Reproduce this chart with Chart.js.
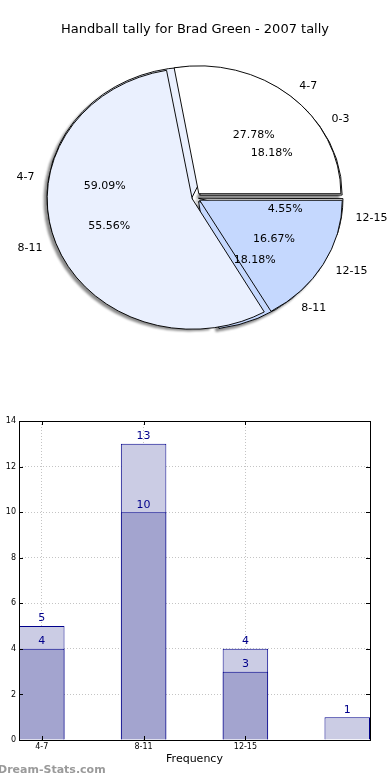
<!DOCTYPE html>
<html>
<head>
<meta charset="utf-8">
<script src="https://cdn.jsdelivr.net/npm/chart.js@4"></script>
<style>
  body { margin: 0; background: #fff; }
  #wrap { position: relative; width: 390px; height: 780px; overflow: hidden; }
  canvas { position: absolute; left: 0; }
  #pieBack { top: 0; filter: drop-shadow(-3px 3px 1px rgba(0, 0, 0, 0.45)); }
  #pieFront { top: 0; }
  #bars { top: 400px; }
  #mark { position: absolute; left: -2px; top: 763px; font: bold 11px "DejaVu Sans", sans-serif; color: #9a9a9a; }
</style>
</head>
<body>
<div id="wrap">
  <canvas id="pieBack" width="390" height="348"></canvas>
  <canvas id="pieFront" width="390" height="348"></canvas>
  <canvas id="bars" width="390" height="380"></canvas>
  <div id="mark">Dream-Stats.com</div>
</div>
<script>
// pie data (two pies drawn on top of each other)
const pieLabelsA = ['4-7', '8-11', '12-15'];
const pieValuesA = [5, 10, 3];
const pieLabelsB = ['0-3', '4-7', '8-11', '12-15'];
const pieValuesB = [4, 13, 4, 1];
const pieColors = ['#ffffff', '#eaf0fe', '#c5d8fe', '#ffffff'];

// bar data
const barLabels = ['4-7', '8-11', '12-15', ''];
const barFront = [4, 10, 3, null];
const barBack = [5, 13, 4, 1];
const yTicks = [0, 2, 4, 6, 8, 10, 12, 14];

const TITLE = 'Handball tally for Brad Green - 2007 tally';
const RADIUS = 142;
const SQUASH = 0.9;   // pie is drawn a bit flattened
const EXPLODE = 6;    // px each slice is pushed out
const BAR_FRAC = 0.447;
const NAVY = '#00008b';

Chart.defaults.font.family = '"DejaVu Sans", sans-serif';
Chart.defaults.color = '#000';

// chart.js shifts an arc by offset/4*(1+fix); work back to a px shift
function explode(values) {
    const total = values.reduce((a, b) => a + b, 0);
    return values.map(v => {
        const circ = v / total * 2 * Math.PI;
        const fix = 1 - Math.sin(Math.min(Math.PI, circ));
        return EXPLODE * 4 / (1 + fix);
    });
}

// flip + flatten so slices run counter-clockwise from 3 o'clock
const squashPlugin = {
    id: 'squash',
    beforeDatasetsDraw(chart) {
        const a = chart.chartArea;
        const cx = (a.left + a.right) / 2, cy = (a.top + a.bottom) / 2;
        const ctx = chart.ctx;
        ctx.save();
        ctx.translate(cx, cy);
        ctx.scale(1, -SQUASH);
        ctx.translate(-cx, -cy);
    },
    afterDatasetsDraw(chart) {
        chart.ctx.restore();
    }
};

function pieOptions(titleColor) {
    return {
        responsive: false,
        animation: false,
        events: [],
        rotation: 90,
        radius: RADIUS,
        layout: { padding: 0 },
        plugins: {
            legend: { display: false },
            tooltip: { enabled: false },
            title: {
                display: true,
                text: TITLE,
                color: titleColor,
                font: { size: 13, weight: 'normal' },
                padding: { top: 22, bottom: 10 }
            }
        }
    };
}

function pieDataset(values) {
    return {
        data: values,
        backgroundColor: pieColors.slice(0, values.length),
        borderColor: '#000',
        borderWidth: 1,
        offset: explode(values),
        clip: false
    };
}

const backChart = new Chart(document.getElementById('pieBack'), {
    type: 'pie',
    data: { labels: pieLabelsB, datasets: [pieDataset(pieValuesB)] },
    options: pieOptions('rgba(0,0,0,0)'),
    plugins: [squashPlugin]
});

function drawPieLabels(ctx, chart) {
    const meta = chart.getDatasetMeta(0);
    const values = chart.data.datasets[0].data;
    const labels = chart.data.labels;
    const total = values.reduce((a, b) => a + b, 0);
    meta.data.forEach((el, i) => {
        const mid = (el.startAngle + el.endAngle) / 2;
        const circ = el.endAngle - el.startAngle;
        const fix = 1 - Math.sin(Math.min(Math.PI, circ));
        const shift = el.options.offset / 4 * (1 + fix);
        const at = d => ({
            x: el.x + Math.cos(mid) * (shift + d * el.outerRadius),
            y: el.y - SQUASH * Math.sin(mid) * (shift + d * el.outerRadius)
        });
        const p = at(0.6);
        ctx.textAlign = 'center';
        ctx.fillText((values[i] / total * 100).toFixed(2) + '%', p.x, p.y);
        const l = at(1.1);
        ctx.textAlign = Math.cos(mid) > 0 ? 'left' : 'right';
        ctx.fillText(labels[i], l.x, l.y);
    });
}

const labelPlugin = {
    id: 'pieLabels',
    afterDraw(chart) {
        const ctx = chart.ctx;
        ctx.save();
        ctx.font = '11px "DejaVu Sans", sans-serif';
        ctx.fillStyle = '#000';
        ctx.textBaseline = 'middle';
        drawPieLabels(ctx, backChart);
        drawPieLabels(ctx, chart);
        ctx.restore();
    }
};

new Chart(document.getElementById('pieFront'), {
    type: 'pie',
    data: { labels: pieLabelsA, datasets: [pieDataset(pieValuesA)] },
    options: pieOptions('#000'),
    plugins: [squashPlugin, labelPlugin]
});

// bar chart
function points(values) {
    return values.map((v, i) => ({ x: i, y: v })).filter(p => p.y !== null);
}

const valuePlugin = {
    id: 'values',
    afterDatasetsDraw(chart) {
        const ctx = chart.ctx;
        ctx.save();
        ctx.font = '11px "DejaVu Sans", sans-serif';
        ctx.fillStyle = NAVY;
        ctx.textAlign = 'center';
        ctx.textBaseline = 'bottom';
        chart.data.datasets.forEach((ds, d) => {
            chart.getDatasetMeta(d).data.forEach((el, i) => {
                ctx.fillText(String(ds.data[i].y), el.x, el.y - 2);
            });
        });
        ctx.restore();
    }
};

const boxPlugin = {
    id: 'box',
    afterDraw(chart) {
        const a = chart.chartArea;
        const ctx = chart.ctx;
        ctx.save();
        ctx.strokeStyle = '#000';
        ctx.lineWidth = 1;
        ctx.strokeRect(Math.round(a.left) + 0.5, Math.round(a.top) + 0.5,
            Math.round(a.right - a.left), Math.round(a.bottom - a.top));
        ctx.beginPath();
        chart.scales.y.ticks.forEach(t => {
            const y = Math.round(chart.scales.y.getPixelForValue(t.value)) + 0.5;
            ctx.moveTo(a.left, y); ctx.lineTo(a.left + 4, y);
            ctx.moveTo(a.right, y); ctx.lineTo(a.right - 4, y);
        });
        chart.scales.x.ticks.forEach(t => {
            const x = Math.round(chart.scales.x.getPixelForValue(t.value)) + 0.5;
            ctx.moveTo(x, a.bottom); ctx.lineTo(x, a.bottom - 4);
            ctx.moveTo(x, a.top); ctx.lineTo(x, a.top + 4);
        });
        ctx.stroke();
        ctx.restore();
    }
};

const gridStyle = { color: '#c4c4c4', drawTicks: false, lineWidth: 1, offset: false };

new Chart(document.getElementById('bars'), {
    type: 'bar',
    data: {
        datasets: [{
            data: points(barFront),
            backgroundColor: '#a3a4cf',
            borderColor: NAVY,
            borderWidth: 1,
            grouped: false,
            categoryPercentage: BAR_FRAC,
            barPercentage: 1
        }, {
            data: points(barBack),
            backgroundColor: '#cbcce4',
            borderColor: NAVY,
            borderWidth: 1,
            grouped: false,
            categoryPercentage: BAR_FRAC,
            barPercentage: 1
        }]
    },
    options: {
        responsive: false,
        animation: false,
        events: [],
        layout: { padding: { top: 21, right: 20, left: 0, bottom: 0 } },
        plugins: { legend: { display: false }, tooltip: { enabled: false } },
        scales: {
            x: {
                type: 'linear',
                offset: false,
                min: -BAR_FRAC / 2,
                max: barLabels.length - 1 + BAR_FRAC / 2,
                z: 1,
                afterBuildTicks: s => {
                    s.ticks = barLabels.map((l, i) => ({ value: i })).filter(t => barLabels[t.value]);
                },
                afterFit: s => { s.height = 40; },
                ticks: {
                    callback: v => barLabels[v] || '',
                    font: { size: 8 },
                    padding: 2,
                    maxRotation: 0,
                    autoSkip: false
                },
                grid: gridStyle,
                border: { display: false, dash: [1, 2] },
                title: {
                    display: true,
                    text: 'Frequency',
                    font: { size: 11 },
                    padding: { top: 0, bottom: 14 }
                }
            },
            y: {
                min: yTicks[0],
                max: yTicks[yTicks.length - 1],
                z: 1,
                afterBuildTicks: s => { s.ticks = yTicks.map(v => ({ value: v })); },
                afterFit: s => { s.width = 19; },
                ticks: { font: { size: 8 }, padding: 3 },
                grid: gridStyle,
                border: { display: false, dash: [1, 2] }
            }
        }
    },
    plugins: [valuePlugin, boxPlugin]
});
</script>
</body>
</html>
